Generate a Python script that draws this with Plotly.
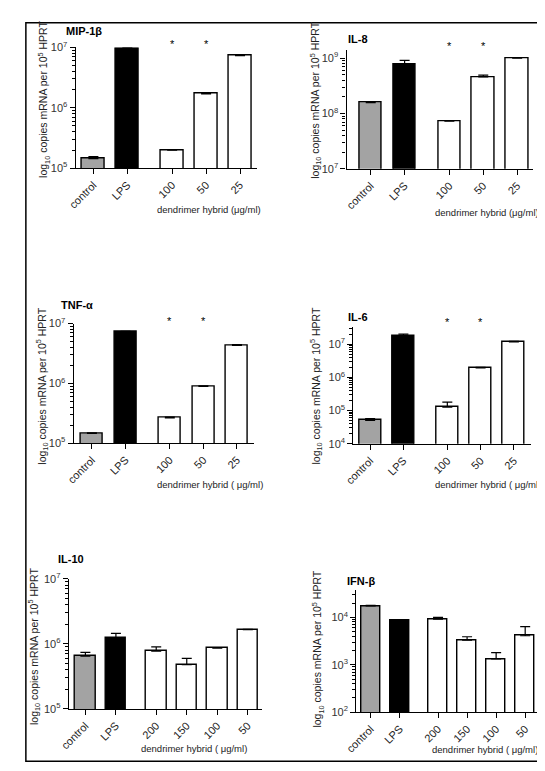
import plotly.graph_objects as go
import numpy as np

W, H = 545, 771

# ---------------- data ----------------
cats_a = ["control", "LPS", "100", "50", "25"]
cats_b = ["control", "LPS", "200", "150", "100", "50"]

mip_values = [1.44e5, 9.8e6, 1.99e5, 1.70e6, 7.3e6]
mip_err = [0.11e5, 0.1e6, 0.04e5, 0.03e6, 0.25e6]

il8_values = [1.57e8, 7.8e8, 7.3e7, 4.56e8, 1.0e9]
il8_err = [0.06e8, 1.3e8, 0.1e7, 0.35e8, 0.01e9]

tnf_values = [1.46e5, 7.3e6, 2.65e5, 8.9e5, 4.3e6]
tnf_err = [0.03e5, 0.1e6, 0.08e5, 0.2e5, 0.15e6]

il6_values = [5.1e4, 1.8e7, 1.28e5, 1.95e6, 1.17e7]
il6_err = [0.6e4, 0.2e7, 0.52e5, 0.05e6, 0.04e7]

il10_values = [6.5e5, 1.24e6, 7.7e5, 4.8e5, 8.6e5, 1.65e6]
il10_err = [0.9e5, 0.21e6, 1.3e5, 1.2e5, 0.1e5, 0.03e6]

ifn_values = [1.74e4, 8.5e3, 9.2e3, 3.3e3, 1.33e3, 4.1e3]
ifn_err = [0.06e4, 0.1e3, 0.8e3, 0.6e3, 0.47e3, 2.3e3]

titles = ["MIP-1β", "IL-8", "TNF-α", "IL-6", "IL-10", "IFN-β"]
star_flags_a = [False, False, True, True, False]
star_flags_b = [False, False, False, False, False, False]

ytitle = "log<sub>10</sub> copies mRNA per 10<sup>5</sup> HPRT"

# ---------------- layout specs (pixels) ----------------
panels = [
    dict(cats=cats_a, vals=mip_values, err=mip_err, title=titles[0], stars=star_flags_a,
         px=(57, 242), py=(32, 155), yr=(5, 7), xr=(-0.52, 4.81), bw=0.66,
         tpos=(45, 15), ytpos=(25, 85), xtpos=(193, 197), stary=29,
         xtitle="dendrimer hybrid (μg/ml)"),
    dict(cats=cats_a, vals=il8_values, err=il8_err, title=titles[1], stars=star_flags_a,
         px=(334, 525), py=(35, 155.7), yr=(7, 9.14), xr=(-0.71, 4.8), bw=0.66,
         tpos=(333, 23), ytpos=(303, 86), xtpos=(478, 200), stary=31,
         xtitle="dendrimer hybrid (μg/ml)"),
    dict(cats=cats_a, vals=tnf_values, err=tnf_err, title=titles[2], stars=star_flags_a,
         px=(55, 239), py=(313.3, 435), yr=(5, 7), xr=(-0.54, 4.82), bw=0.66,
         tpos=(40, 294), ytpos=(23, 377), xtpos=(194, 477), stary=311,
         xtitle="dendrimer hybrid ( μg/ml)"),
    dict(cats=cats_a, vals=il6_values, err=il6_err, title=titles[3], stars=star_flags_a,
         px=(341, 522), py=(316.7, 435.7), yr=(4, 7.52), xr=(-0.5, 4.82), bw=0.66,
         tpos=(333, 307), ytpos=(303, 377), xtpos=(479, 477), stary=312,
         xtitle="dendrimer hybrid ( μg/ml)"),
    dict(cats=cats_b, vals=il10_values, err=il10_err, title=titles[4], stars=star_flags_b,
         px=(50, 247), py=(573.3, 705.7), yr=(5, 7), xr=(-0.54, 5.77), bw=0.67,
         tpos=(37, 553), ytpos=(15, 642), xtpos=(178, 746), stary=None,
         xtitle="dendrimer hybrid ( μg/ml)"),
    dict(cats=cats_b, vals=ifn_values, err=ifn_err, title=titles[5], stars=star_flags_b,
         px=(344, 532), py=(585, 709), yr=(2, 4.57), xr=(-0.49, 5.84), bw=0.64,
         tpos=(332, 575), ytpos=(305, 645), xtpos=(475, 747), stary=None,
         xtitle="dendrimer hybrid ( μg/ml)"),
]

FONT = "Liberation Sans, Arial, sans-serif"
fig = go.Figure()
annotations = []


def xp(px):
    return px / W


def yp(py):
    return 1 - py / H


def positions(n):
    return [0, 1] + [2.32 + i for i in range(n - 2)]


for i, p in enumerate(panels):
    k = "" if i == 0 else str(i + 1)
    xa, ya = "x" + k, "y" + k
    n = len(p["cats"])
    pos = positions(n)
    colors = ["#a3a3a3", "#000000"] + ["#ffffff"] * (n - 2)
    fig.add_trace(go.Bar(
        x=pos, y=p["vals"], width=p["bw"], xaxis=xa, yaxis=ya,
        marker=dict(color=colors, line=dict(color="black", width=1.4)),
        error_y=dict(type="data", symmetric=False, array=p["err"],
                     arrayminus=[0] * n, color="black", thickness=1.2, width=5),
        showlegend=False, hoverinfo="skip",
    ))
    lo, hi = p["yr"]
    majors = [10 ** e for e in range(int(np.ceil(lo)), int(np.floor(hi)) + 1)]
    minors = [m * 10 ** e for e in range(int(np.floor(lo)), int(np.ceil(hi)) + 1)
              for m in range(2, 10) if lo <= np.log10(m * 10 ** e) <= hi]
    fig.layout["xaxis" + k] = dict(
        domain=[xp(p["px"][0]), xp(p["px"][1])], anchor=ya, range=list(p["xr"]),
        tickvals=pos, ticktext=p["cats"], tickangle=-45, ticks="outside",
        ticklen=5, tickwidth=1.2, tickcolor="black", showline=True,
        linecolor="black", linewidth=1.4, showgrid=False, zeroline=False,
        tickfont=dict(family=FONT, size=11, color="#222"), fixedrange=True,
    )
    fig.layout["yaxis" + k] = dict(
        domain=[yp(p["py"][1]), yp(p["py"][0])], anchor=xa, type="log",
        range=[lo, hi], tickvals=majors,
        ticktext=["10<sup>%d</sup>" % round(np.log10(v)) for v in majors],
        ticks="outside", ticklen=5, tickwidth=1.2, tickcolor="black",
        minor=dict(tickvals=minors, ticks="outside", ticklen=3, tickwidth=1,
                   tickcolor="black"),
        showline=True, linecolor="black", linewidth=1.4, showgrid=False,
        zeroline=False, tickfont=dict(family=FONT, size=11, color="#333"),
        fixedrange=True,
    )
    # panel title
    annotations.append(dict(
        text="<b>%s</b>" % p["title"], x=xp(p["tpos"][0]), y=yp(p["tpos"][1]),
        xref="paper", yref="paper", xanchor="left", yanchor="middle",
        showarrow=False, font=dict(family=FONT, size=11, color="black")))
    # y title
    annotations.append(dict(
        text=ytitle, x=xp(p["ytpos"][0]), y=yp(p["ytpos"][1]),
        xref="paper", yref="paper", xanchor="center", yanchor="middle",
        textangle=-90, showarrow=False,
        font=dict(family=FONT, size=10.5, color="#222")))
    # x title
    annotations.append(dict(
        text=p["xtitle"], x=xp(p["xtpos"][0]), y=yp(p["xtpos"][1]),
        xref="paper", yref="paper", xanchor="center", yanchor="middle",
        showarrow=False, font=dict(family=FONT, size=9.5, color="#222")))
    # significance stars
    if p["stary"] is not None:
        for xpos, flag in zip(pos, p["stars"]):
            if flag:
                annotations.append(dict(
                    text="*", x=xpos, y=yp(p["stary"]), xref=xa, yref="paper",
                    xanchor="center", yanchor="middle", showarrow=False,
                    font=dict(family=FONT, size=11, color="black")))

fig.update_layout(
    width=W, height=H, margin=dict(l=0, r=0, t=0, b=0),
    paper_bgcolor="white", plot_bgcolor="white", bargap=0,
    annotations=annotations,
    shapes=[dict(type="rect", xref="paper", yref="paper",
                 x0=xp(6), x1=xp(538), y0=yp(759), y1=yp(7),
                 line=dict(color="black", width=1.5))],
)

fig.write_html("out.html")
